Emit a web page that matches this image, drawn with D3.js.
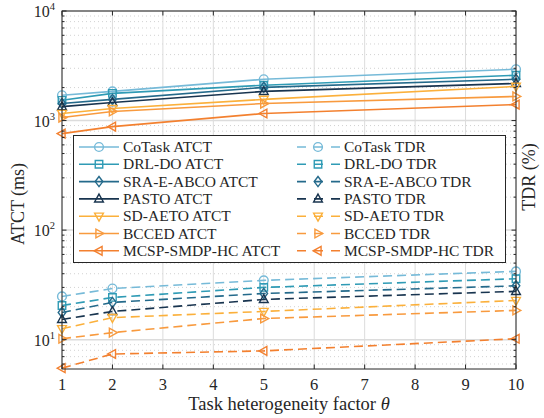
<!DOCTYPE html>
<html>
<head>
<meta charset="utf-8">
<script src="https://cdn.jsdelivr.net/npm/d3@7"></script>
<style>
  body { margin: 0; background: #fff; }
  text { font-family: "Liberation Serif", "DejaVu Serif", serif; }
</style>
</head>
<body>
<div id="chart"></div>
<script>
// theta values
const theta = [1, 2, 5, 10];
const xTicks = [1, 2, 3, 4, 5, 6, 7, 8, 9, 10];
const yDecades = [10, 100, 1000, 10000];

const methods = ["CoTask", "DRL-DO", "SRA-E-ABCO", "PASTO", "SD-AETO", "BCCED", "MCSP-SMDP-HC"];
const colors = ["#76bad8", "#2f9bb5", "#246a8b", "#18344f", "#fbb03b", "#f89a3e", "#f3802f"];
const symbols = ["circle", "square", "diamond", "up", "down", "right", "left"];

// ATCT (ms)
const atct = [
  [1700, 1845, 2380, 2940],
  [1530, 1770, 2100, 2590],
  [1430, 1560, 2010, 2380],
  [1340, 1460, 1845, 2180],
  [1160, 1290, 1560, 2050],
  [1065, 1210, 1430, 1660],
  [760, 880, 1160, 1400]
];

// TDR (%)
const tdr = [
  [24.8, 29.3, 34.8, 42.0],
  [20.5, 24.3, 30.0, 36.0],
  [17.7, 21.9, 26.4, 31.0],
  [15.3, 18.1, 23.3, 27.6],
  [12.6, 15.9, 18.1, 22.8],
  [10.2, 11.6, 15.6, 18.5],
  [5.5, 7.4, 7.9, 10.2]
];

const width = 544, height = 418;
const margin = { top: 11, right: 28, bottom: 49, left: 62 };
const serif = "'Liberation Serif', 'DejaVu Serif', serif";

const svg = d3.select("#chart").append("svg")
  .attr("width", width)
  .attr("height", height)
  .attr("font-family", serif);

const x = d3.scaleLinear()
  .domain([1, 10])
  .range([margin.left, width - margin.right]);

const y = d3.scaleLog()
  .domain([5.4, 10000])
  .range([height - margin.bottom, margin.top]);

const x0 = x.range()[0], x1 = x.range()[1];
const y0 = y.range()[0], y1 = y.range()[1];

// minor tick values
const minor = [];
[1, 10, 100, 1000].forEach(d => {
  for (let k = 2; k <= 9; k++) {
    const v = d * k;
    if (v >= y.domain()[0] && v <= y.domain()[1]) minor.push(v);
  }
});

// grid
const grid = svg.append("g");
grid.selectAll(".ymin").data(minor).enter().append("line")
  .attr("x1", x0).attr("x2", x1)
  .attr("y1", d => y(d)).attr("y2", d => y(d))
  .attr("stroke", "#d2d2d2").attr("stroke-width", 1)
  .attr("stroke-dasharray", "1,3");
grid.selectAll(".xg").data(xTicks).enter().append("line")
  .attr("x1", d => x(d)).attr("x2", d => x(d))
  .attr("y1", y0).attr("y2", y1)
  .attr("stroke", "#dcdcdc").attr("stroke-width", 1);
grid.selectAll(".yg").data(yDecades).enter().append("line")
  .attr("x1", x0).attr("x2", x1)
  .attr("y1", d => y(d)).attr("y2", d => y(d))
  .attr("stroke", "#dcdcdc").attr("stroke-width", 1.5);

// marker shapes
function markerPath(type, r) {
  switch (type) {
    case "circle": return d3.symbol(d3.symbolCircle, Math.PI * r * r)();
    case "square": { const s = r * 0.85; return `M${-s},${-s}H${s}V${s}H${-s}Z`; }
    case "diamond": { const s = r * 1.15; return `M0,${-s}L${s * 0.75},0L0,${s}L${-s * 0.75},0Z`; }
    case "up": return `M0,${-r * 1.1}L${r},${r * 0.7}L${-r},${r * 0.7}Z`;
    case "down": return `M0,${r * 1.1}L${r},${-r * 0.7}L${-r},${-r * 0.7}Z`;
    case "right": return `M${r * 1.1},0L${-r * 0.7},${r}L${-r * 0.7},${-r}Z`;
    case "left": return `M${-r * 1.1},0L${r * 0.7},${r}L${r * 0.7},${-r}Z`;
  }
}

const line = d3.line().x(d => x(d[0])).y(d => y(d[1]));

function drawSeries(vals, dashed) {
  vals.forEach((row, i) => {
    const pts = theta.map((t, j) => [t, row[j]]);
    svg.append("path")
      .attr("d", line(pts))
      .attr("fill", "none")
      .attr("stroke", colors[i])
      .attr("stroke-width", 1.6)
      .attr("stroke-dasharray", dashed ? "9,5" : null);
    svg.append("g").selectAll("path").data(pts).enter().append("path")
      .attr("transform", d => `translate(${x(d[0])},${y(d[1])})`)
      .attr("d", markerPath(symbols[i], 4.4))
      .attr("fill", "none")
      .attr("stroke", colors[i])
      .attr("stroke-width", 1.4);
  });
}
drawSeries(atct, false);
drawSeries(tdr, true);

// box
svg.append("rect")
  .attr("x", x0).attr("y", y1)
  .attr("width", x1 - x0).attr("height", y0 - y1)
  .attr("fill", "none").attr("stroke", "#262626").attr("stroke-width", 1);

// ticks (inward)
const ticks = svg.append("g").attr("stroke", "#262626").attr("stroke-width", 1);
xTicks.forEach(d => {
  ticks.append("line").attr("x1", x(d)).attr("x2", x(d)).attr("y1", y0).attr("y2", y0 - 4.5);
  ticks.append("line").attr("x1", x(d)).attr("x2", x(d)).attr("y1", y1).attr("y2", y1 + 4.5);
});
yDecades.forEach(d => {
  ticks.append("line").attr("x1", x0).attr("x2", x0 + 4.5).attr("y1", y(d)).attr("y2", y(d));
  ticks.append("line").attr("x1", x1).attr("x2", x1 - 4.5).attr("y1", y(d)).attr("y2", y(d));
});
minor.forEach(d => {
  ticks.append("line").attr("x1", x0).attr("x2", x0 + 2.5).attr("y1", y(d)).attr("y2", y(d));
  ticks.append("line").attr("x1", x1).attr("x2", x1 - 2.5).attr("y1", y(d)).attr("y2", y(d));
});

// tick labels
svg.append("g").selectAll("text").data(xTicks).enter().append("text")
  .attr("x", d => x(d)).attr("y", y0 + 21)
  .attr("text-anchor", "middle")
  .attr("font-size", 16.5).attr("fill", "#262626")
  .text(d => d);

const yl = svg.append("g").selectAll("text").data(yDecades).enter().append("text")
  .attr("x", x0 - 7).attr("y", d => y(d) + 6)
  .attr("text-anchor", "end")
  .attr("font-size", 16).attr("fill", "#262626");
yl.append("tspan").text("10");
yl.append("tspan").attr("font-size", 10.5).attr("dy", -7).text(d => Math.round(Math.log10(d)));

// axis titles
const xt = svg.append("text")
  .attr("x", (x0 + x1) / 2).attr("y", y0 + 41)
  .attr("text-anchor", "middle")
  .attr("font-size", 18.5).attr("fill", "#262626");
xt.append("tspan").text("Task heterogeneity factor ");
xt.append("tspan").attr("font-style", "italic").text("\u03b8");

svg.append("text")
  .attr("transform", `translate(24,204) rotate(-90)`)
  .attr("text-anchor", "middle")
  .attr("font-size", 18).attr("fill", "#262626")
  .text("ATCT (ms)");

svg.append("text")
  .attr("transform", `translate(535,177) rotate(-90)`)
  .attr("text-anchor", "middle")
  .attr("font-size", 18).attr("fill", "#262626")
  .text("TDR (%)");

// legend
const lg = svg.append("g");
lg.append("rect")
  .attr("x", 73.5).attr("y", 135.5)
  .attr("width", 432).attr("height", 127)
  .attr("fill", "#fff").attr("stroke", "#262626").attr("stroke-width", 1);

methods.forEach((m, i) => {
  const ry = 147 + i * 17.3;
  // ATCT column
  lg.append("line").attr("x1", 79).attr("x2", 119).attr("y1", ry).attr("y2", ry)
    .attr("stroke", colors[i]).attr("stroke-width", 1.6);
  lg.append("path").attr("transform", `translate(99,${ry})`)
    .attr("d", markerPath(symbols[i], 4.4))
    .attr("fill", "none").attr("stroke", colors[i]).attr("stroke-width", 1.4);
  lg.append("text").attr("x", 123).attr("y", ry + 5)
    .attr("font-size", 15.5).attr("fill", "#262626").text(m + " ATCT");
  // TDR column
  lg.append("line").attr("x1", 297).attr("x2", 340).attr("y1", ry).attr("y2", ry)
    .attr("stroke", colors[i]).attr("stroke-width", 1.6)
    .attr("stroke-dasharray", "9,8");
  lg.append("path").attr("transform", `translate(318,${ry})`)
    .attr("d", markerPath(symbols[i], 4.4))
    .attr("fill", "none").attr("stroke", colors[i]).attr("stroke-width", 1.4);
  lg.append("text").attr("x", 344).attr("y", ry + 5)
    .attr("font-size", 15.5).attr("fill", "#262626").text(m + " TDR");
});
</script>
</body>
</html>
